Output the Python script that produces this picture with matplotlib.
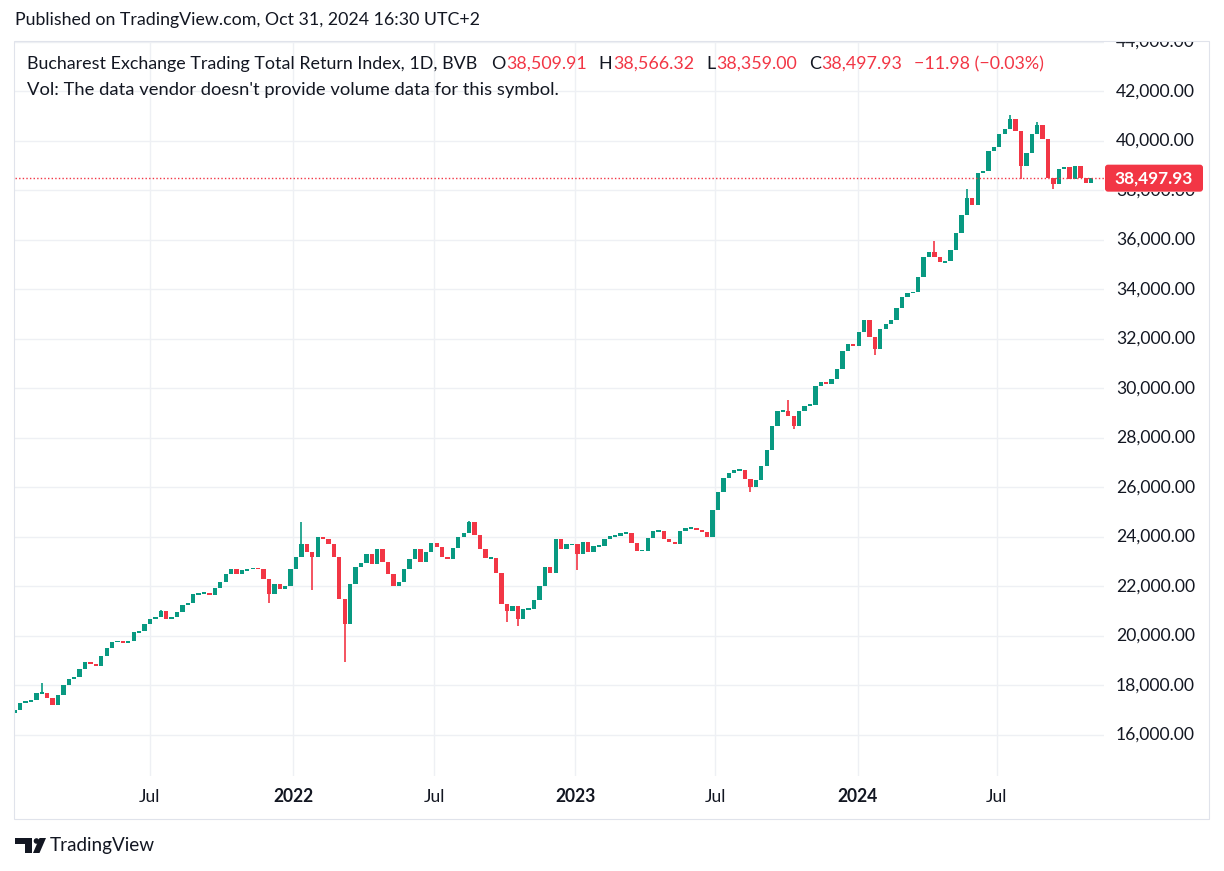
import datetime as dt
import numpy as np
import matplotlib
matplotlib.use("Agg")
import matplotlib.pyplot as plt
import matplotlib.dates as mdates
from matplotlib.patches import Rectangle, FancyBboxPatch, Circle, Polygon
from matplotlib.transforms import IdentityTransform, blended_transform_factory, Bbox

# ---------------- data ----------------
first_week = dt.date(2021, 1, 4)      # Monday of the first weekly bar
first_open = 16900
weekly_closes = [
    17000, 17290, 17350, 17400, 17700, 17700, 17500, 17200, 17600, 18000,
    18250, 18350, 18650, 18950, 18850, 18800, 19200, 19500, 19750, 19800,
    19700, 19800, 20150, 20200, 20500, 20700, 20750, 21000, 20700, 20750,
    20950, 21250, 21350, 21700, 21700, 21750, 21650, 21950, 22200, 22500,
    22700, 22500, 22650, 22700, 22750, 22700, 22300, 21700, 22100, 21900,
    22000, 22700, 23200, 23700, 23400, 23200, 24000, 23900, 23700, 23200,
    21500, 20500, 22100, 22800, 22950, 23300, 22900, 23500, 23000, 22500,
    22000, 22200, 22700, 23100, 23500, 23000, 23400, 23750, 23600, 23200,
    23100, 23550, 24000, 24150, 24600, 24100, 23500, 23150, 23150, 22550,
    21300, 21000, 21200, 20700, 21100, 21100, 21450, 22000, 22800, 22550,
    23900, 23500, 23700, 23700, 23300, 23800, 23400, 23650, 23650, 23900,
    24050, 24050, 24150, 24150, 23750, 23450, 23450, 23950, 24250, 24250,
    23900, 23800, 23700, 24250, 24350, 24350, 24300, 24200, 24000, 25100,
    25800, 26400, 26600, 26700, 26700, 26350, 26000, 26300, 26850, 27500,
    28500, 29100, 29100, 28900, 28500, 29100, 29300, 29350, 30100, 30250,
    30200, 30400, 30800, 31500, 31800, 31700, 32300, 32750, 32100, 31600,
    32400, 32600, 32750, 33250, 33700, 33850, 33900, 34500, 35300, 35500,
    35300, 35100, 35150, 35600, 36300, 37000, 37700, 37400, 38700, 38800,
    39600, 39750, 40300, 40500, 40900, 40400, 39000, 39500, 40300, 40650,
    40100, 38500, 38250, 38850, 38950, 38450, 39000, 38500, 38300, 38497.93,
]
wick_highs = {5: 18100, 27: 21050, 53: 24600, 84: 24650, 143: 29550,
              170: 35950, 176: 38050, 184: 41050, 189: 40750}
wick_lows = {47: 21350, 55: 21850, 61: 18950, 91: 20550, 93: 20400,
             104: 22650, 136: 25800, 144: 28350, 159: 31350, 186: 38450,
             192: 38050}

price_ticks = list(range(16000, 44001, 2000))
time_tick_dates = [dt.date(2021, 7, 1), dt.date(2022, 1, 3), dt.date(2022, 7, 4),
                   dt.date(2023, 1, 3), dt.date(2023, 7, 3), dt.date(2024, 1, 3),
                   dt.date(2024, 7, 1)]
time_tick_labels = ["Jul", "2022", "Jul", "2023", "Jul", "2024", "Jul"]
time_tick_bold = [False, True, False, True, False, True, False]

last_price = 38497.93
published = "Published on TradingView.com, Oct 31, 2024 16:30 UTC+2"
legend_title = "Bucharest Exchange Trading Total Return Index, 1D, BVB"
legend_keys = ["O", "H", "L", "C"]
legend_vals = ["38,509.91", "38,566.32", "38,359.00", "38,497.93"]
legend_change = "\u221211.98 (\u22120.03%)"
vol_text = "Vol: The data vendor doesn't provide volume data for this symbol."
brand = "TradingView"

# ---------------- style ----------------
RED = "#F23645"
GREEN = "#089981"
TEXT = "#131722"
GRID = "#EEF0F4"
BORDER = "#E0E3EB"

plt.rcParams["font.family"] = ["Lato", "DejaVu Sans"]

W, H = 1224, 871
fig = plt.figure(figsize=(W / 100, H / 100), dpi=100)
fig.patch.set_facecolor("white")
renderer = fig.canvas.get_renderer()
ID = IdentityTransform()


def fit_size(s, width, weight="normal"):
    t = fig.text(0, 0, s, fontsize=10, fontweight=weight)
    w = t.get_window_extent(renderer).width
    t.remove()
    return 10.0 * width / w


def ptext(x, y, s, **kw):
    """text positioned in pixel coordinates measured from the top-left corner"""
    return fig.text(x, H - y, s, transform=ID, **kw)


# ---------------- layout (pixels) ----------------
PL, PR, PT, PB = 15, 1104, 41, 776      # chart pane
AXR, TB = 1208, 818                      # right edge of price axis, bottom of time axis

base = mdates.date2num(first_week)
px_per_day = 5.41 / 7.0
x_origin_px = 12.0

ax = fig.add_axes([PL / W, 1 - PB / H, (PR - PL) / W, (PB - PT) / H])
ax.set_xlim(base + (PL - x_origin_px) / px_per_day, base + (PR - x_origin_px) / px_per_day)
ax.set_ylim(14343, 44040)
ax.set_axis_off()

# grid
for p in price_ticks:
    ax.axhline(p, color=GRID, lw=1.0, zorder=0)
for d in time_tick_dates:
    ax.axvline(mdates.date2num(d), color=GRID, lw=1.0, zorder=0)

# candles (weekly)
n = len(weekly_closes)
centers = base + 7 * np.arange(n) + 3.5
opens = [first_open] + weekly_closes[:-1]
body_lo, body_h, colors = [], [], []
for i in range(n):
    o, c = opens[i], weekly_closes[i]
    col = GREEN if c >= o else RED
    lo, hi = min(o, c), max(o, c)
    if hi - lo < 70:
        mid = (hi + lo) / 2
        lo, hi = mid - 35, mid + 35
    body_lo.append(lo)
    body_h.append(hi - lo)
    colors.append(col)
    if i in wick_highs or i in wick_lows:
        ax.vlines(centers[i], wick_lows.get(i, lo), wick_highs.get(i, hi),
                  color=col, lw=1.2, zorder=3)
ax.bar(centers, body_h, bottom=body_lo, width=5.6, color=colors, linewidth=0, zorder=3)

# last price line
ax.axhline(last_price, color=RED, lw=1.0, linestyle=(0, (1.0, 1.6)), zorder=4)

# ---------------- price axis ----------------
pax = fig.add_axes([PR / W, 1 - PB / H, (AXR - PR) / W, (PB - PT) / H])
pax.set_ylim(ax.get_ylim())
pax.set_xlim(0, 1)
pax.set_axis_off()
fs_axis = fit_size("42,000.00", 79)
tr = blended_transform_factory(pax.transAxes, pax.transData)
y_last = pax.transData.transform((0, last_price))[1]
for p in price_ticks:
    t = pax.text(0.115, p, f"{p:,.2f}", transform=tr, ha="left", va="center",
                 fontsize=fs_axis, color=TEXT, clip_on=True)
    if abs(p - last_price) < 1000:
        # only the part below the last-price label stays visible
        t.set_clip_box(Bbox([[PR, 0], [AXR, y_last - 13.5]]))

box = FancyBboxPatch((1105, y_last - 13.5), 98, 27,
                     boxstyle="round,pad=0,rounding_size=3",
                     transform=ID, facecolor=RED, edgecolor="none", zorder=10)
fig.add_artist(box)
fs_box = fit_size(f"{last_price:,.2f}", 78, weight="bold")
fig.text(1154, y_last, f"{last_price:,.2f}", transform=ID, ha="center", va="center",
         fontsize=fs_box, fontweight="bold", color="white", zorder=11)

# ---------------- time axis ----------------
tax = fig.add_axes([PL / W, 1 - TB / H, (PR - PL) / W, (TB - PB) / H])
tax.set_xlim(ax.get_xlim())
tax.set_ylim(0, 1)
tax.set_axis_off()
for d, lab, b in zip(time_tick_dates, time_tick_labels, time_tick_bold):
    tax.text(mdates.date2num(d), 0.5, lab, ha="center", va="center",
             fontsize=fs_axis, fontweight="bold" if b else "normal", color=TEXT)

# outer border
fig.add_artist(Rectangle((13.5, H - TB - 0.5), AXR - 13, TB - 40, transform=ID,
                         fill=False, edgecolor=BORDER, lw=0.8))

# ---------------- header / legend ----------------
fs_head = fit_size(published, 463)
ptext(15, 20, published, fontsize=fs_head, va="center", ha="left", color=TEXT)

fs_leg = fit_size(legend_title, 451)
x = 27
t = ptext(x, 64, legend_title, fontsize=fs_leg, va="center", ha="left", color=TEXT)
x = t.get_window_extent(renderer).x1 + 14
for k, v in zip(legend_keys, legend_vals):
    t = ptext(x, 64, k, fontsize=fs_leg, va="center", ha="left", color=TEXT)
    x = t.get_window_extent(renderer).x1 + 0.5
    t = ptext(x, 64, v, fontsize=fs_leg, va="center", ha="left", color=RED)
    x = t.get_window_extent(renderer).x1 + 12
ptext(x, 64, legend_change, fontsize=fs_leg, va="center", ha="left", color=RED)

fs_vol = fit_size(vol_text, 532)
ptext(27, 90, vol_text, fontsize=fs_vol, va="center", ha="left", color=TEXT)

# ---------------- footer logo ----------------
def P(x, y):
    return (x, H - y)

logo_kw = dict(transform=ID, facecolor=TEXT, edgecolor="none")
fig.add_artist(Polygon([P(15, 838), P(32, 838), P(32, 853), P(25, 853), P(25, 844), P(15, 844)],
                       closed=True, **logo_kw))
fig.add_artist(Circle(P(36.5, 841), 2.8, **logo_kw))
fig.add_artist(Polygon([P(33, 853), P(39.5, 853), P(46, 838), P(39.5, 838)], closed=True, **logo_kw))
fs_brand = fit_size(brand, 105)
ptext(50, 845.5, brand, fontsize=fs_brand, va="center", ha="left", color=TEXT)

fig.savefig("out.png", dpi=100, facecolor="white")
